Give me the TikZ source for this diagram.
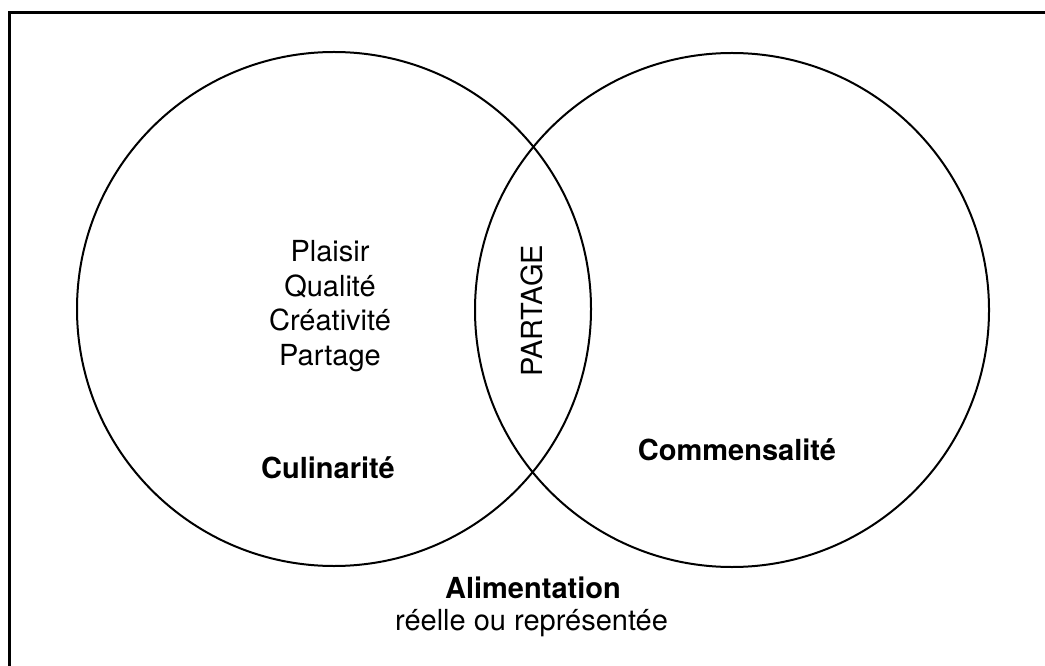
\documentclass[tikz,border=0pt]{standalone}
\usepackage{fontspec}
\setmainfont{TeX Gyre Heros}
\usetikzlibrary{positioning}

\begin{document}
\begin{tikzpicture}[%
    x=0.75pt,
    y=-0.75pt,
    every node/.style={
        inner sep=0,
        font=\fontsize{21.75pt}{26pt}\selectfont,
    },
    set/.style={
        circle,
        draw=black,
        line width=1.5pt,
        minimum size=385.5pt,
    },
    setname/.style={
        anchor=base,
        font=\fontsize{21.75pt}{26pt}\selectfont\bfseries,
    },
    words/.style={
        align=center,
    },
    frame/.style={
        draw=black,
        line width=2.25pt,
    }
]

\useasboundingbox (0, 0) rectangle (1045, 666);
\clip (0, 0) rectangle (1045, 666);

% cadre
\draw [frame] (9.5, 12.5) rectangle (1100, 720);

% les deux ensembles
\node [set] (culin) at (334, 309) {};
\node [set] (commens) at (732, 310) {};

\node [words] (values) at (330, 306) {Plaisir\\Qualité\\Créativité\\Partage};
\node [rotate=90] (partage) at (531.5, 311) {PARTAGE};

\node [setname] (culinname) at (328, 478) {Culinarité};
\node [setname] (commensname) at (737, 460) {Commensalité};

\node [setname] (alim) at (533, 598) {Alimentation};
\node [anchor=base] (alimsub) at (531.5, 630) {réelle ou représentée};

\end{tikzpicture}
\end{document}
